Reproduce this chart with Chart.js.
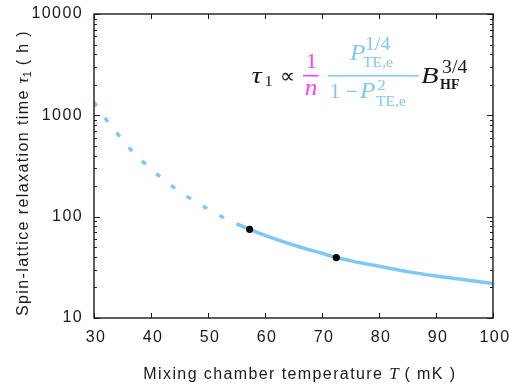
<!DOCTYPE html>
<html><head><meta charset="utf-8">
<style>html,body{margin:0;padding:0;background:#fff;}#wrap{width:510px;height:384px;}</style>
<script src="https://cdn.jsdelivr.net/npm/chart.js@4.4.1/dist/chart.umd.min.js"></script>
</head><body><div id="wrap"><canvas id="c" width="510" height="384"></canvas></div>
<script>
// ---- data ----
const dashedT   = [30, 32, 34, 36, 38, 40, 42, 44, 46, 48, 50, 52, 54, 55];
const dashedTau = [1350, 930, 670, 490, 375, 296, 237, 194, 163, 138, 119, 103, 90, 85];
const solidT    = [55, 57.3, 60, 62.5, 65, 67.5, 70, 72.5, 75, 77.5, 80, 85, 90, 95, 100];
const solidTau  = [85, 75, 65.5, 58.4, 52.5, 47.6, 43.5, 39.5, 36.8, 34.4, 32.4, 28.7, 26.0, 23.9, 21.9];
const markT     = [57.3, 72.5];
const markTau   = [75, 39.5];
const xTicks = [30, 40, 50, 60, 70, 80, 90, 100];
const xTickLabels = ['30', '40', '50', '60', '70', '80', '90', '100'];
const yTicks = [10, 100, 1000, 10000];
const yTickLabels = ['10', '100', '1000', '10000'];
const yMinor = [2,3,4,5,6,7,8,9];

const BLUE = '#80c6f6';
const MAG = '#ff3cff';
const INK = '#1a1a1a';
const SANS = '"Liberation Sans", Arial, sans-serif';
const SERIF = '"Liberation Serif", serif';
const MATHSYM = '"DejaVu Sans", sans-serif';

function pts(xs, ys){ return xs.map((x,i)=>({x:x, y:ys[i]})); }

function drawPieces(ctx, pieces, x, y){
  let cx = x;
  for (const p of pieces){
    ctx.font = p.font;
    ctx.letterSpacing = p.ls || '0px';
    ctx.fillStyle = p.color || INK;
    ctx.fillText(p.t, cx, y + (p.dy||0));
    cx += ctx.measureText(p.t).width;
  }
  return cx - x;
}
function measurePieces(ctx, pieces){
  let w = 0;
  for (const p of pieces){ ctx.font = p.font; ctx.letterSpacing = p.ls || '0px'; w += ctx.measureText(p.t).width; }
  return w;
}

const frame = {
  id: 'frame',
  beforeDraw(chart){ chart.ctx.letterSpacing = '1.4px'; },
  afterDraw(chart){
    const ctx = chart.ctx, a = chart.chartArea;
    const xs = chart.scales.x, ys = chart.scales.y;
    ctx.save();
    ctx.letterSpacing = '0px';
    // ticks
    ctx.strokeStyle = INK; ctx.lineWidth = 1;
    ctx.beginPath();
    xTicks.forEach(v=>{
      const px = Math.round(xs.getPixelForValue(v)) + 0.5;
      ctx.moveTo(px, a.bottom); ctx.lineTo(px, a.bottom - 5);
      ctx.moveTo(px, a.top); ctx.lineTo(px, a.top + 5);
    });
    for (let d = 10; d <= 10000; d *= 10){
      const py = Math.round(ys.getPixelForValue(d)) + 0.5;
      ctx.moveTo(a.left, py); ctx.lineTo(a.left + 6, py);
      ctx.moveTo(a.right, py); ctx.lineTo(a.right - 6, py);
      if (d < 10000) yMinor.forEach(m=>{
        const q = Math.round(ys.getPixelForValue(d*m)) + 0.5;
        ctx.moveTo(a.left, q); ctx.lineTo(a.left + 3, q);
        ctx.moveTo(a.right, q); ctx.lineTo(a.right - 3, q);
      });
    }
    ctx.stroke();
    // box
    ctx.lineWidth = 1.4;
    ctx.strokeRect(a.left, a.top, a.right - a.left, a.bottom - a.top);

    // axis titles
    ctx.textAlign = 'left'; ctx.textBaseline = 'alphabetic';
    const xt = [
      {t:'Mixing chamber temperature ', font:'16px '+SANS, ls:'1.4px'},
      {t:'T', font:'italic 17px '+SERIF},
      {t:' ( mK )', font:'16px '+SANS, ls:'1.4px'}
    ];
    drawPieces(ctx, xt, 143.3, 379);
    const yt = [
      {t:'Spin-lattice relaxation time ', font:'16px '+SANS, ls:'1.4px'},
      {t:'\u03C4', font:'italic 17px '+SERIF},
      {t:'1', font:'11px '+SANS, dy:3},
      {t:' ( h )', font:'16px '+SANS, ls:'1.4px'}
    ];
    const yw = measurePieces(ctx, yt);
    ctx.save();
    ctx.translate(28.3, 173);
    ctx.rotate(-Math.PI/2);
    drawPieces(ctx, yt, -yw/2, 0);
    ctx.restore();

    // formula
    const T = (t, x, y, font, color, sx, align) => {
      ctx.save();
      ctx.translate(x, y); ctx.scale(sx || 1.1, 1);
      ctx.font = font; ctx.fillStyle = color; ctx.textAlign = align || 'left'; ctx.letterSpacing = '0px';
      ctx.fillText(t, 0, 0);
      ctx.restore();
    };
    T('\u03C4', 251.5, 82.7, 'italic 24px '+SERIF, INK, 1.2);
    T('1', 264.5, 85.5, '15px '+SERIF, INK, 1.1);
    T('\u221D', 280, 82.5, '21px '+MATHSYM, INK, 1.0);
    T('1', 311.5, 68.3, '20px '+SERIF, MAG, 1.1, 'center');
    T('n', 311, 95, 'italic 24px '+SERIF, MAG, 1.05, 'center');
    ctx.lineWidth = 1.6;
    ctx.strokeStyle = MAG; ctx.beginPath(); ctx.moveTo(303, 75.7); ctx.lineTo(318.5, 75.7); ctx.stroke();
    ctx.strokeStyle = BLUE; ctx.beginPath(); ctx.moveTo(327.7, 75.7); ctx.lineTo(419, 75.7); ctx.stroke();
    T('P', 350, 60, 'italic 23px '+SERIF, BLUE, 1.1);
    T('1/4', 365, 50, '18px '+SERIF, BLUE, 1.1);
    T('TE,e', 363, 66.5, '14px '+SERIF, BLUE, 1.12);
    T('1', 329.5, 98, '20px '+SERIF, BLUE, 1.1);
    T('\u2212', 345.5, 96.3, '15px '+MATHSYM, BLUE, 1.0);
    T('P', 360, 98, 'italic 23px '+SERIF, BLUE, 1.1);
    T('2', 377.5, 90, '15px '+SERIF, BLUE, 1.1);
    T('TE,e', 376, 105.5, '14px '+SERIF, BLUE, 1.12);
    T('B', 421, 83, 'italic 23px '+SERIF, INK, 1.25);
    T('3/4', 442, 73, '18px '+SERIF, INK, 1.1);
    T('HF', 440, 88.5, 'bold 14px '+SERIF, INK, 1.0);
    ctx.restore();
  }
};

const chart = new Chart(document.getElementById('c').getContext('2d'), {
  type: 'line',
  data: { datasets: [
    { data: pts(markT, markTau), showLine: false, pointRadius: 3.6, pointBackgroundColor: '#000',
      pointBorderWidth: 0, borderColor: '#000', backgroundColor: '#000', order: 0 },
    { data: pts(solidT, solidTau), borderColor: BLUE, borderWidth: 3.5,
      pointRadius: 0, cubicInterpolationMode: 'monotone', fill: false, order: 1 },
    { data: pts(dashedT, dashedTau), borderColor: BLUE, borderWidth: 3.5, borderDash: [5, 14],
      borderCapStyle: 'butt', pointRadius: 0, cubicInterpolationMode: 'monotone', fill: false, order: 2 }
  ]},
  options: {
    responsive: false, animation: false, devicePixelRatio: 1,
    layout: { padding: { top: 14, right: 17, left: 0, bottom: 0 } },
    plugins: { legend: { display: false }, tooltip: { enabled: false } },
    scales: {
      x: { type: 'linear', min: 30, max: 100,
        afterBuildTicks: s => { s.ticks = xTicks.map(v => ({ value: v })); },
        afterFit: s => { s.height = 66; s.paddingLeft = 0; s.paddingRight = 0; },
        grid: { display: false, drawTicks: false }, border: { display: false },
        ticks: { callback: (v, i) => xTickLabels[i], color: INK, padding: 10, labelOffset: 2,
          maxRotation: 0, autoSkip: false, font: { family: SANS, size: 16 } } },
      y: { type: 'logarithmic', min: 10, max: 10000,
        afterBuildTicks: s => { s.ticks = yTicks.map(v => ({ value: v })); },
        afterFit: s => { s.width = 94; s.paddingTop = 0; s.paddingBottom = 0; },
        grid: { display: false, drawTicks: false }, border: { display: false },
        ticks: { callback: (v, i) => yTickLabels[i], color: INK, padding: 11, autoSkip: false,
          font: { family: SANS, size: 16 } } }
    }
  },
  plugins: [frame]
});
</script></body></html>
